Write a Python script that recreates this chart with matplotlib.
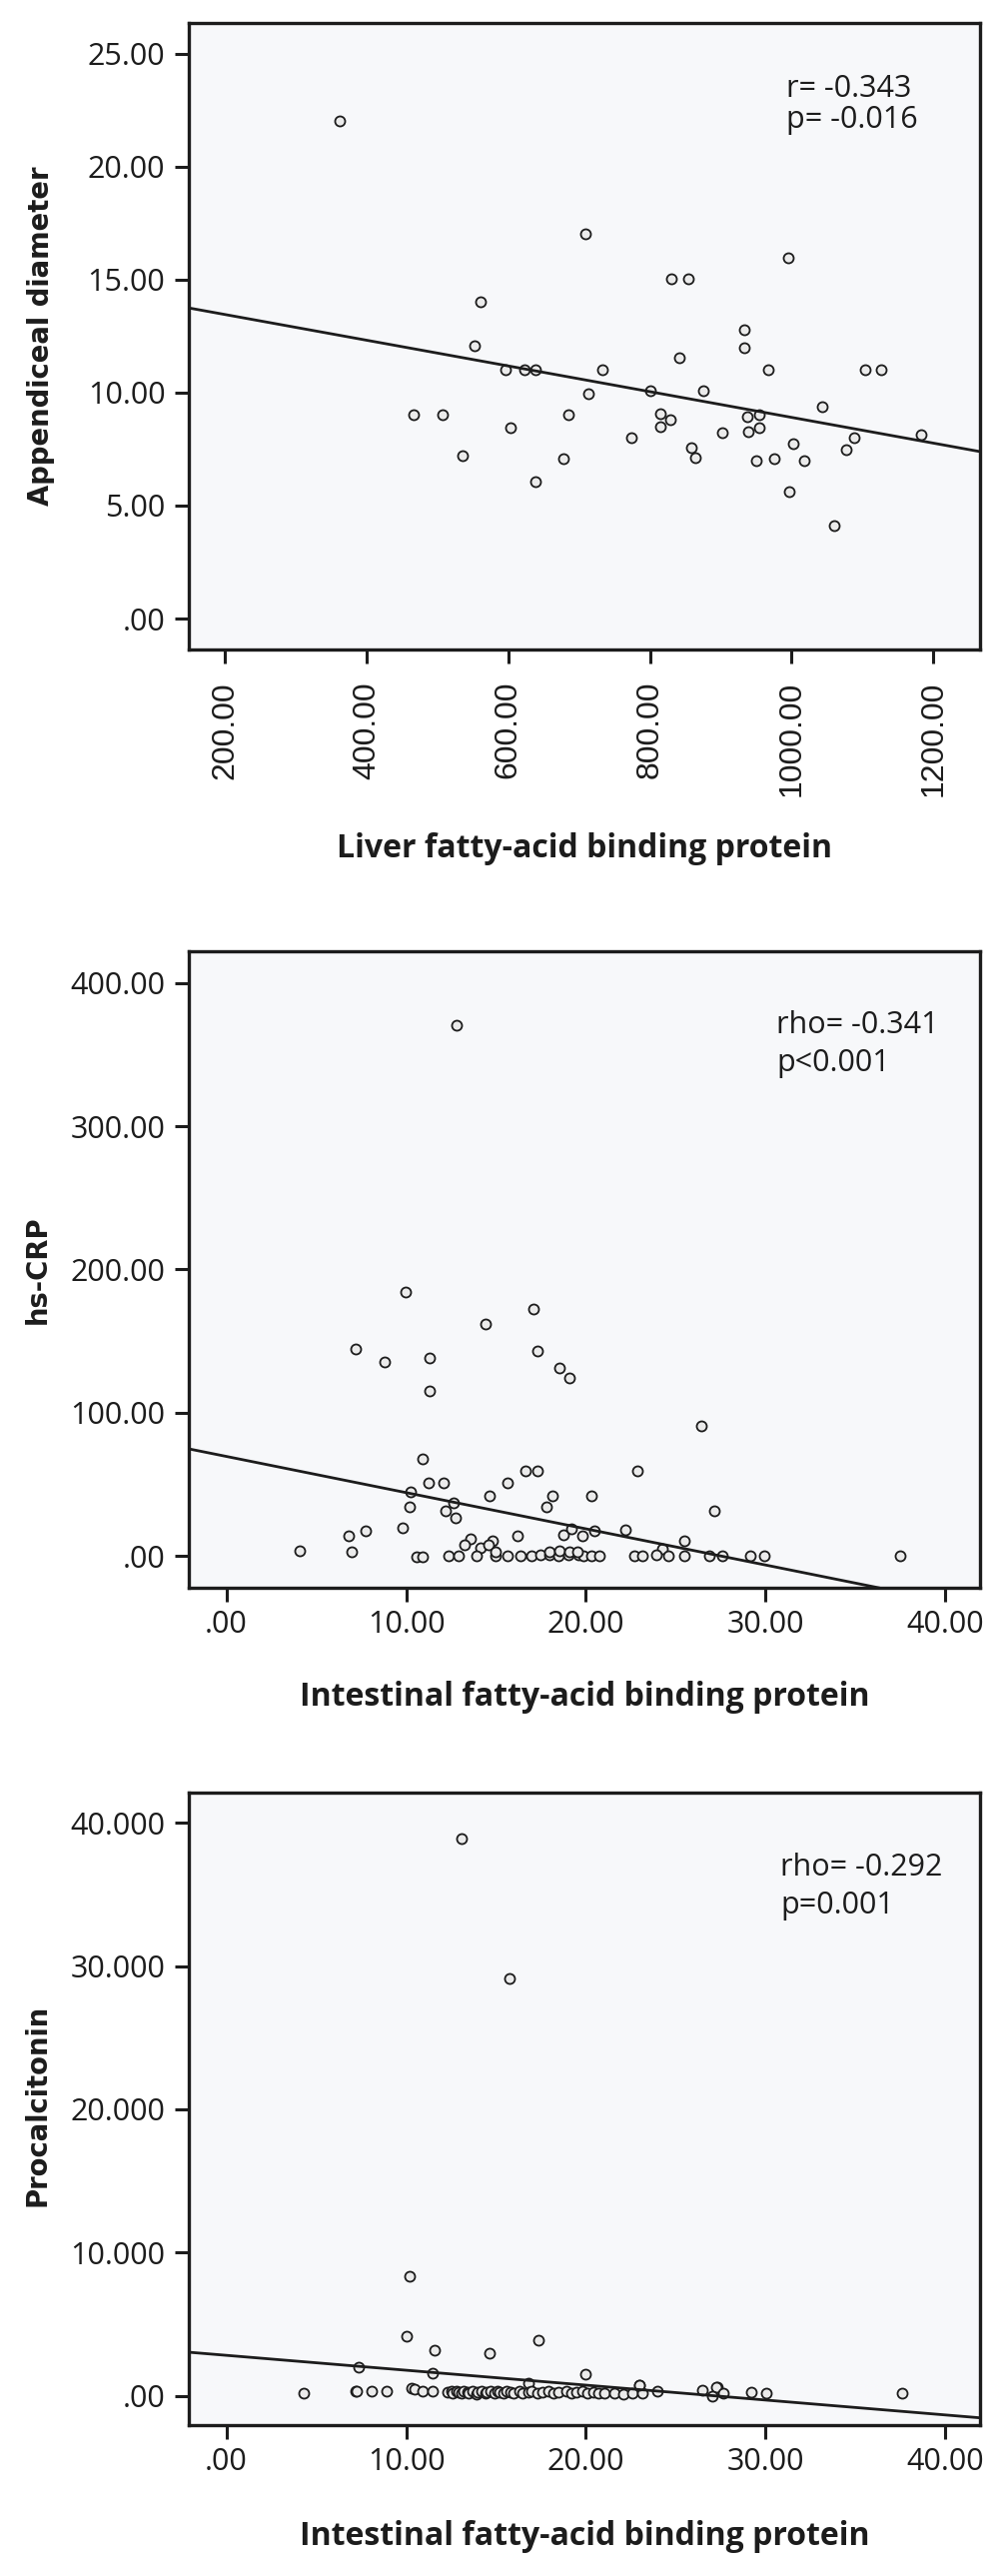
import numpy as np
import matplotlib
matplotlib.use("Agg")
import matplotlib.pyplot as plt

# ---------------- data ----------------
# Panel 1: Liver FABP vs appendiceal diameter
lfabp = [362.5, 708.4, 995.5, 830.2, 853.7, 561.2, 933.2, 933.2, 553.0, 842.0,
         596.4, 622.6, 638.8, 732.7, 966.6, 1103.8, 1126.4, 800.5, 875.4, 712.9,
         466.4, 507.9, 684.9, 814.0, 828.4, 814.0, 936.8, 954.9, 938.6, 954.0,
         902.5, 1043.3, 602.7, 774.3, 1002.7, 1088.5, 1183.3, 858.2, 863.7, 1077.7,
         535.0, 677.7, 949.4, 975.6, 1017.2, 638.8, 996.4, 1060.5]
app_diam = [22.02, 17.01, 15.98, 15.02, 15.02, 14.03, 12.79, 11.98, 12.06, 11.54,
            10.99, 10.99, 10.99, 11.01, 11.01, 11.01, 11.01, 10.06, 10.08, 9.94,
            9.02, 9.02, 9.02, 9.08, 8.78, 8.48, 8.94, 9.04, 8.25, 8.43,
            8.21, 9.37, 8.46, 7.99, 7.73, 8.01, 8.13, 7.56, 7.14, 7.48,
            7.20, 7.06, 6.97, 7.08, 7.00, 6.06, 5.60, 4.10]

# Panel 2: Intestinal FABP vs hs-CRP
ifabp_crp = [12.81, 9.96, 17.08, 14.41, 7.19, 17.33, 8.79, 11.28, 18.51, 19.07,
             11.28, 26.44, 10.93, 16.64, 17.29, 22.89, 11.27, 12.10, 15.64, 10.23,
             14.64, 18.16, 20.33, 10.19, 12.62, 17.79, 12.21, 12.73, 27.15, 9.82,
             7.75, 6.82, 6.97, 4.08, 16.22, 18.73, 19.20, 19.83, 20.48, 22.20,
             25.50, 13.60, 13.25, 14.12, 14.83, 14.59, 24.27,
             10.57, 10.90, 12.38, 12.92, 13.90, 14.97, 15.66, 16.35, 16.99, 17.48,
             17.98, 18.49, 19.05, 19.60, 19.88, 20.33, 17.95, 18.55, 19.10, 19.55,
             15.00, 20.76, 22.70, 23.13, 23.90, 24.59, 25.50, 26.87, 27.58, 29.15,
             29.95, 37.49]
hs_crp = [370.6, 183.9, 172.4, 162.0, 144.4, 143.0, 135.6, 138.0, 131.5, 124.1,
          115.3, 90.6, 68.0, 59.0, 59.0, 59.0, 51.2, 51.2, 51.2, 44.9,
          41.6, 41.6, 41.6, 34.3, 37.2, 34.1, 31.3, 26.6, 31.7, 19.8,
          17.2, 14.1, 2.7, 3.6, 13.7, 14.6, 18.9, 13.7, 17.2, 17.9,
          10.4, 12.0, 7.6, 5.5, 10.6, 7.8, 5.0,
          -1.0, -1.0, 0.2, 0.2, 0.3, 0.2, 0.1, 0.1, 0.2, 1.0,
          0.5, 0.3, 0.4, 0.5, 0.2, 0.3, 3.1, 3.8, 2.6, 3.1,
          3.1, 0.3, 0.3, 0.2, 0.4, 0.3, 0.2, 0.3, 0.2, 0.3,
          0.2, 0.1]

# Panel 3: Intestinal FABP vs procalcitonin
ifabp_pct = [13.06, 15.77, 10.21, 10.00, 17.37, 11.57, 14.66, 7.37, 11.49, 19.96,
             16.80, 22.95, 27.30, 4.30, 7.19, 7.24, 8.08, 8.93, 10.29, 10.47,
             10.90, 11.46, 12.30, 12.50, 12.60, 12.80, 12.90, 13.10, 13.20, 13.40,
             13.50, 13.70, 13.90, 14.00, 14.20, 14.40, 14.50, 14.70, 14.90, 15.10,
             15.20, 15.40, 15.60, 15.80, 16.00, 16.30, 16.50, 16.80, 17.00, 17.30,
             17.60, 17.90, 18.20, 18.50, 18.90, 19.20, 19.50, 19.80, 20.10, 20.40,
             20.70, 21.03, 21.59, 22.11, 22.61, 23.16, 22.98, 24.00, 26.50, 27.24,
             27.05, 27.65, 29.19, 30.06, 37.58]
procalcitonin = [38.9, 29.1, 8.38, 4.19, 3.90, 3.19, 2.98, 2.02, 1.60, 1.49,
                 0.92, 0.75, 0.60, 0.20, 0.30, 0.30, 0.30, 0.30, 0.55, 0.45,
                 0.35, 0.30, 0.25, 0.30, 0.20, 0.30, 0.25, 0.20, 0.30, 0.25,
                 0.20, 0.30, 0.15, 0.25, 0.30, 0.20, 0.25, 0.35, 0.20, 0.30,
                 0.25, 0.20, 0.30, 0.25, 0.20, 0.30, 0.20, 0.25, 0.30, 0.20,
                 0.25, 0.30, 0.20, 0.25, 0.30, 0.20, 0.25, 0.30, 0.20, 0.25,
                 0.20, 0.20, 0.20, 0.15, 0.20, 0.20, 0.74, 0.30, 0.40, 0.60,
                 0.00, 0.20, 0.25, 0.20, 0.20]

# fitted regression lines (slope, intercept)
fit1 = (-0.00569, 14.59)
fit2 = (-2.527, 69.4)
fit3 = (-0.104, 2.83)

# axis ticks and labels
p1_xticks = [200, 400, 600, 800, 1000, 1200]
p1_xlabels = ["200.00", "400.00", "600.00", "800.00", "1000.00", "1200.00"]
p1_yticks = [0, 5, 10, 15, 20, 25]
p1_ylabels = [".00", "5.00", "10.00", "15.00", "20.00", "25.00"]
p23_xticks = [0, 10, 20, 30, 40]
p23_xlabels = [".00", "10.00", "20.00", "30.00", "40.00"]
p2_yticks = [0, 100, 200, 300, 400]
p2_ylabels = [".00", "100.00", "200.00", "300.00", "400.00"]
p3_yticks = [0, 10, 20, 30, 40]
p3_ylabels = [".00", "10.000", "20.000", "30.000", "40.000"]

# ---------------- style ----------------
W, H = 1004, 2578
fig = plt.figure(figsize=(W / 100, H / 100), dpi=100)
fig.patch.set_facecolor("white")

INK = "#1c1c1c"
FACE = "#f7f8fa"
TICKFONT = ["Open Sans", "DejaVu Sans"]
LABFONT = ["Liberation Sans Narrow", "Open Sans", "DejaVu Sans"]


def frac_box(left, top, right, bottom):
    return [left / W, 1 - bottom / H, (right - left) / W, (bottom - top) / H]


def style_axes(ax):
    ax.set_facecolor(FACE)
    for sp in ax.spines.values():
        sp.set_linewidth(2.4)
        sp.set_color(INK)
    ax.tick_params(direction="out", length=10, width=2.2, color=INK,
                   labelsize=22, labelcolor=INK, pad=7)
    for lab in ax.get_yticklabels():
        lab.set_family(TICKFONT)


def draw_panel(ax, x, y, fit, xlim, ylim):
    ax.scatter(x, y, s=52, facecolor="#ebebeb", edgecolor=INK,
               linewidths=1.3, zorder=2, clip_on=True)
    ax.axline((0, fit[1]), slope=fit[0], color=INK, lw=2.0, zorder=3)
    ax.set_xlim(*xlim)
    ax.set_ylim(*ylim)


# Panel 1
ax1 = fig.add_axes(frac_box(189, 23, 981, 650))
draw_panel(ax1, lfabp, app_diam, fit1, (149, 1266), (-1.37, 26.35))
ax1.set_xticks(p1_xticks)
ax1.set_xticklabels(p1_xlabels, rotation=90, va="top", ha="center",
                    family=["Liberation Sans", "DejaVu Sans"], fontsize=23)
ax1.set_yticks(p1_yticks)
ax1.set_yticklabels(p1_ylabels)
style_axes(ax1)
ax1.tick_params(axis="x", pad=13, labelsize=23)

# Panel 2
ax2 = fig.add_axes(frac_box(189, 952, 981, 1589))
draw_panel(ax2, ifabp_crp, hs_crp, fit2, (-2.09, 41.93), (-22.3, 422.1))
ax2.set_xticks(p23_xticks)
ax2.set_xticklabels(p23_xlabels, family=TICKFONT)
ax2.set_yticks(p2_yticks)
ax2.set_yticklabels(p2_ylabels)
style_axes(ax2)
ax2.tick_params(axis="x", pad=6)

# Panel 3
ax3 = fig.add_axes(frac_box(189, 1794, 981, 2427))
draw_panel(ax3, ifabp_pct, procalcitonin, fit3, (-2.09, 41.93), (-2.04, 42.1))
ax3.set_xticks(p23_xticks)
ax3.set_xticklabels(p23_xlabels, family=TICKFONT)
ax3.set_yticks(p3_yticks)
ax3.set_yticklabels(p3_ylabels)
style_axes(ax3)
ax3.tick_params(axis="x", pad=6)


def ftext(px, py, s, **kw):
    fig.text(px / W, 1 - py / H, s, **kw)


# y labels
ylab_kw = dict(rotation=90, ha="center", va="center", fontsize=19.8,
               fontweight="bold", family=["DejaVu Sans"], color=INK)
ftext(41, 336, "Appendiceal diameter", **ylab_kw)
ftext(38, 1271, "hs-CRP", **ylab_kw)
ftext(38, 2107, "Procalcitonin", **ylab_kw)

# x labels
xlab_kw = dict(ha="center", va="baseline", fontsize=23, fontweight="bold",
               family=LABFONT, color=INK)
ftext(585, 858, "Liver fatty-acid binding protein", **xlab_kw)
ftext(585, 1707, "Intestinal fatty-acid binding protein", **xlab_kw)
ftext(585, 2547, "Intestinal fatty-acid binding protein", **xlab_kw)

# annotations
ann_kw = dict(ha="left", va="baseline", fontsize=22, family=TICKFONT, color=INK)
ftext(787, 97, "r= -0.343", **ann_kw)
ftext(787, 128, "p= -0.016", **ann_kw)
ftext(777, 1034, "rho= -0.341", **ann_kw)
ftext(777, 1072, "p<0.001", **ann_kw)
ftext(781, 1877, "rho= -0.292", **ann_kw)
ftext(781, 1915, "p=0.001", **ann_kw)

fig.savefig("out.png", dpi=100, facecolor="white")
